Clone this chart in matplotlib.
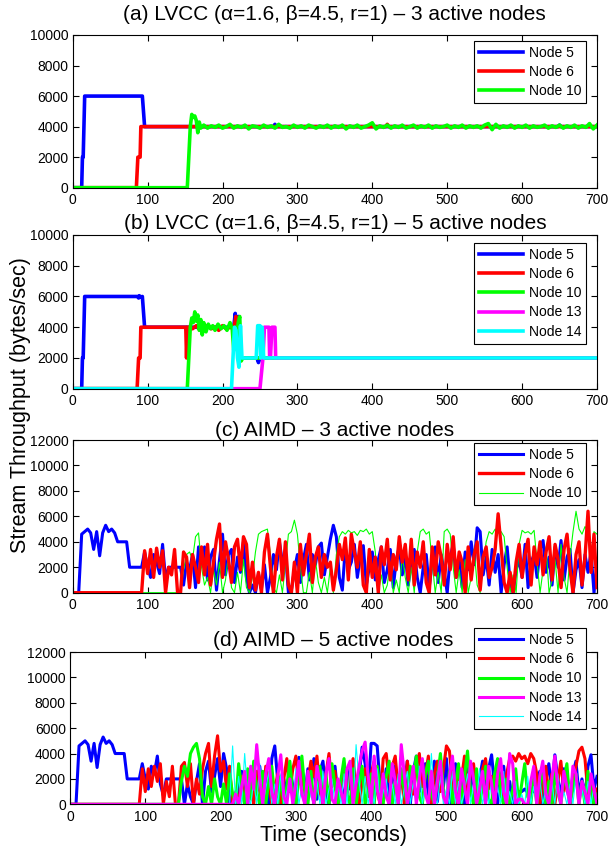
import matplotlib
matplotlib.use('Agg')
import matplotlib.pyplot as plt
import numpy as np

plt.rcParams['font.family'] = ['Liberation Sans', 'DejaVu Sans']

W, H = 609, 852

# ---------------- data ----------------
# (a) LVCC, 3 active nodes  (time s, throughput bytes/sec)
a_n5_t = [0, 12, 13, 14, 16, 93, 96, 268, 270, 272, 648, 650, 652, 700]
a_n5_v = [0, 0, 2000, 2000, 6000, 6000, 4000, 4000, 4150, 4000, 4000, 4100, 4000, 4000]
a_n6_t = [0, 85, 87, 90, 91, 418, 420, 422, 700]
a_n6_v = [0, 0, 2000, 2000, 4000, 4000, 4150, 4000, 4000]
a_n10_t = [0, 153, 155, 157, 159, 161, 163, 165, 167, 169, 171]
a_n10_v = [0, 0, 2000, 4000, 4800, 4600, 4700, 4400, 3600, 4300, 3900]
# after 175 s, every 5 s
a_n10_tail = [4100, 3900, 4050, 3950, 4100, 3900, 4000, 4150, 3900, 4050,
              3950, 4100, 3850, 4050, 4000, 3900, 4100, 3950, 4050, 3900,
              4150, 3950, 4000, 3900, 4100, 3950, 4050, 3900, 4100, 4000,
              3900, 4050, 3950, 4100, 3900, 4050, 3950, 4100, 3850, 4050,
              3950, 4100, 3900, 4000, 4100, 4250, 3850, 4050, 3950, 4100,
              3900, 4050, 3950, 4100, 3900, 4000, 4100, 3900, 4050, 3950,
              4100, 3900, 4050, 3950, 4000, 4100, 3900, 4050, 3950, 4100,
              3900, 4050, 3950, 4050, 3900, 4100, 4200, 3800, 4150, 3900,
              4050, 3950, 4100, 3900, 4050, 3950, 4100, 3900, 4050, 3950,
              4000, 4100, 3900, 4050, 3950, 4100, 3900, 4050, 3950, 4100,
              3900, 4050, 3950, 4200, 3850, 4100]

# (b) LVCC, 5 active nodes
b_n5_t = [0, 12, 13, 14, 16, 87, 88, 89, 90, 93, 96, 215, 217, 219, 221, 223,
          225, 246, 248, 250, 700]
b_n5_v = [0, 0, 2000, 2000, 6000, 6000, 5900, 6050, 5950, 6000, 4000, 4000,
          4900, 3800, 4700, 2000, 2000, 2000, 1700, 2000, 2000]
b_n6_t = [0, 86, 88, 90, 91, 150, 151, 152, 153, 155, 160, 165, 170, 175, 180,
          185, 190, 195, 200, 205, 210, 215, 218, 221, 223, 700]
b_n6_v = [0, 0, 2000, 2000, 4000, 4000, 4000, 2000, 4000, 4000, 3900, 4100,
          3800, 4000, 4100, 3900, 4000, 3800, 4100, 3900, 4000, 3900, 4700,
          2000, 2000, 2000]
b_n10_t = [0, 153, 155, 157, 159, 161, 163, 165, 167, 169, 171, 173, 175, 178,
           181, 184, 187, 190, 194, 198, 202, 206, 210, 213, 215, 217, 219,
           221, 223, 225, 227, 229, 700]
b_n10_v = [0, 0, 2000, 4000, 4600, 4300, 5000, 4400, 4800, 3800, 4500, 3500,
           4300, 3700, 4200, 3900, 4100, 3800, 4200, 3900, 4100, 3800, 4300,
           3900, 2500, 4000, 3300, 4300, 4700, 1800, 2000, 2000, 2000]
b_n13_t = [0, 250, 253, 254, 256, 262, 263, 264, 266, 270, 271, 700]
b_n13_v = [0, 0, 1500, 2000, 4000, 4000, 2000, 2000, 4000, 4000, 2000, 2000]
b_n14_t = [0, 212, 214, 216, 218, 220, 222, 224, 226, 228, 230, 245, 247, 250,
           251, 253, 255, 700]
b_n14_v = [0, 0, 2000, 4000, 3800, 2000, 1400, 4100, 2000, 2000, 2000, 2000,
           4100, 4100, 2000, 4000, 2000, 2000]

# AIMD series: (start time, values every 4 s from start)
c_n5_start = 0
c_n5 = [0, 0, 0, 4600, 4800, 5000, 4700, 3400, 4800, 2900,
        4700, 5300, 4800, 5000, 4700, 4000, 4000, 4000, 4000, 2000,
        2000, 2000, 2000, 2000, 3200, 2000, 1200, 3000, 2400, 1500,
        3800, 1000, 2000, 2000, 2000, 2000, 2000, 600, 2400, 1800,
        3000, 400, 3600, 2200, 3600, 1000, 2800, 3400, 200, 2600,
        4600, 1400, 3000, 3400, 800, 2800, 1600, 4000, 1200, 0,
        600, 0, 1500, 300, 2200, 0, 1200, 3000, 1800, 4000,
        2400, 3200, 0, 200, 1800, 3000, 800, 2600, 3800, 1000,
        3000, 2200, 3600, 3900, 1400, 2800, 4200, 5300, 4400, 1200,
        200, 3600, 1800, 2400, 3800, 1200, 2800, 3700, 600, 2000,
        3200, 1000, 2600, 3600, 800, 1800, 3400, 400, 2600, 3600,
        1400, 3000, 600, 2400, 3400, 1200, 0, 2000, 3000, 400,
        2400, 3600, 800, 3000, 1600, 0, 2800, 3800, 1200, 2600,
        400, 3200, 1800, 4000, 2200, 5100, 4800, 1400, 2800, 600,
        3400, 1600, 3000, 0, 2200, 3600, 800, 0, 1800, 2600,
        1200, 3800, 400, 2400, 3000, 1200, 3400, 4100, 1600, 2800,
        600, 3600, 2000, 4100, 1000, 2800, 3400, 0, 1800, 2600,
        400, 3000, 1600, 3200, 0, 2400]
c_n6_start = 92
c_n6 = [0, 3300, 1500, 3400, 1200, 3500, 2000,
        3300, 0, 2000, 1400, 3400, 0, 0, 3200, 2800, 400,
        3000, 2000, 800, 3600, 1400, 3800, 600, 2400, 4200, 5400,
        1200, 4000, 2600, 800, 3600, 4200, 1800, 4400, 3800, 400,
        2400, 200, 1600, 0, 3200, 4600, 2000, 0, 2800, 4200,
        1000, 4000, 600, 0, 2400, 0, 3800, 1400, 3000, 4600,
        800, 2800, 3600, 1200, 3000, 2000, 2400, 200, 1800, 3800,
        2600, 4300, 1000, 4600, 3200, 2000, 4000, 600, 0, 3400,
        1200, 2800, 0, 3600, 2200, 4200, 1000, 3000, 1800, 4400,
        2400, 3800, 1000, 4200, 600, 3200, 2000, 4000, 800, 0,
        3600, 1400, 4000, 2800, 600, 3800, 1800, 4400, 1200, 3200,
        2400, 0, 3600, 1000, 3000, 4000, 200, 2800, 3600, 1200,
        2000, 3400, 6200, 3600, 800, 0, 1600, 0, 2400, 3800,
        1200, 3000, 4200, 600, 3600, 2200, 4000, 1400, 3200, 4400,
        1000, 3800, 2600, 400, 3400, 4600, 1800, 0, 3000, 4000,
        600, 2800, 6400, 1600, 4600, 400]
c_n10_start = 144
c_n10 = [0, 1800, 3000, 3200, 2600, 4400, 4700, 2000, 600, 1200, 0,
         1800, 600, 2400, 0, 1000, 3000, 400, 0, 1600, 0,
         2600, 400, 0, 1200, 3200, 4600, 4800, 4900, 5000, 3000,
         400, 0, 1400, 0, 2200, 4600, 4800, 5700, 4600, 2000,
         0, 0, 1600, 0, 2600, 800, 0, 1200, 0, 2000,
         0, 3000, 4400, 4800, 4600, 4900, 4700, 4800, 4500, 4900,
         4800, 5000, 4600, 4800, 3200, 0, 1400, 0, 600, 2400,
         0, 1000, 0, 3000, 1200, 0, 2000, 0, 3200, 4800,
         5000, 4600, 4800, 2400, 0, 1600, 0, 4800, 5000, 4600,
         2000, 0, 1800, 0, 2600, 0, 1200, 3400, 600, 0,
         2200, 4000, 4800, 4600, 5000, 4700, 4800, 4400, 2000, 0,
         1400, 0, 3800, 4900, 4700, 4800, 4600, 4900, 2400, 0,
         1800, 3600, 0, 1000, 2600, 0, 3800, 1200, 0, 2800,
         4800, 6400, 5000, 4600, 5200, 4800, 3000, 4800, 4600]

d_n5_start = 0
d_n5 = [0, 0, 0, 4600, 4800, 5000, 4700, 3400, 4800, 2900,
        4700, 5300, 4800, 5000, 4700, 4000, 4000, 4000, 4000, 2000,
        2000, 2000, 2000, 2000, 3200, 2000, 1200, 3000, 2400, 3800,
        1600, 700, 2000, 2000, 2000, 2000, 2000, 2000, 0, 1600,
        600, 0, 1800, 3200, 0, 2600, 3400, 1000, 2200, 3600,
        1400, 4000, 2800, 0, 800, 0, 1400, 2600, 600, 0,
        2200, 400, 1600, 3000, 800, 2400, 0, 3600, 4600, 1800,
        0, 2000, 600, 3000, 1400, 0, 3700, 2200, 800, 2800,
        1200, 3600, 400, 2600, 3400, 1000, 0, 2400, 3000, 600,
        1800, 0, 2800, 1200, 3400, 600, 2200, 4500, 3200, 1000,
        4800, 4800, 4600, 1400, 600, 2800, 0, 1800, 3000, 400,
        2000, 1200, 3400, 0, 2600, 3800, 1000, 2200, 3200, 600,
        1600, 3400, 200, 2800, 1400, 3600, 0, 2400, 3200, 800,
        1800, 0, 3000, 1200, 2600, 400, 2000, 3400, 800, 2800,
        3900, 1400, 0, 2200, 3000, 600, 1800, 0, 1000, 1000,
        1000, 1200, 900, 1000, 1000, 1400, 2600, 0, 1800, 3200,
        1200, 3900, 2000, 600, 2800, 1400, 0, 2400, 3400, 800,
        2000, 600, 3000, 3900, 1200, 2200]
d_n6_start = 92
d_n6 = [0, 2800, 1000, 2800, 1400, 3000, 1800, 3200, 0, 1800, 600,
        3000, 0, 0, 3000, 3300, 1400, 3200, 0, 2000, 800,
        2800, 4000, 4800, 1400, 3800, 5400, 2600, 3400, 1200, 3000,
        0, 1000, 0, 2200, 0, 600, 1800, 0, 2600, 1000,
        0, 3000, 1800, 0, 1200, 2400, 0, 2000, 3600, 1000,
        2800, 3800, 1600, 2600, 0, 1800, 3400, 2200, 3800, 1000,
        0, 2400, 4000, 1400, 2600, 0, 1600, 3000, 800, 2200,
        3600, 1200, 0, 1800, 2800, 600, 2400, 3400, 1000, 0,
        3600, 4000, 1800, 3000, 3800, 1200, 2600, 0, 3400, 2000,
        800, 3000, 4000, 1400, 2200, 3800, 0, 2400, 3400, 1000,
        2800, 4600, 4200, 1600, 0, 3000, 2000, 3800, 600, 2400,
        3200, 1000, 0, 2800, 3600, 1200, 2200, 0, 3000, 1800,
        0, 2400, 3600, 3800, 3400, 4000, 3600, 3800, 3200, 4000,
        3600, 2400, 0, 1400, 3000, 600, 2400, 0, 1800, 3400,
        1000, 2600, 0, 1600, 3000, 4200, 4500, 3600, 800, 2000,
        0, 1200]
d_n10_start = 144
d_n10 = [0, 1800, 3000, 2200, 4000, 4500, 4800, 3600, 600, 0, 1400,
         0, 2000, 600, 0, 1600, 0, 2400, 800, 0, 3200,
         1200, 0, 2800, 400, 3400, 1000, 0, 2600, 0, 1800,
         3000, 600, 0, 2200, 0, 1400, 3400, 800, 0, 2000,
         3800, 1000, 0, 2600, 0, 1200, 3000, 400, 2400, 0,
         3200, 1400, 0, 2000, 3600, 800, 0, 2800, 0, 1600,
         3000, 0, 1000, 2400, 0, 3000, 1400, 0, 2200, 3400,
         0, 1800, 0, 2800, 1000, 0, 3000, 2000, 3800, 600,
         0, 2400, 3400, 800, 0, 2000, 4000, 1200, 0, 2600,
         0, 1600, 3200, 0, 2200, 4200, 1000, 0, 2800, 0,
         1400, 3000, 400, 0, 2400, 3600, 800, 0, 2000, 0,
         1200, 2800, 0, 1600, 3200, 600, 0, 2200, 0, 1400,
         3000, 0, 1800, 0, 2600, 1000, 0, 2000, 3200, 0,
         1200, 2400, 0, 1800, 0, 2600, 1000, 0, 800]
d_n13_start = 212
d_n13 = [0, 0, 800, 0, 1400, 2600, 0, 3000, 1200, 4700,
         2000, 0, 2400, 3600, 1000, 0, 2200, 3900, 600, 0,
         2000, 0, 1600, 3400, 800, 0, 2600, 1200, 0, 3000,
         1800, 0, 2400, 3600, 400, 0, 2000, 1000, 0, 2800,
         3400, 0, 1600, 3000, 4200, 4900, 2200, 0, 3800, 1200,
         0, 2400, 600, 0, 3200, 1800, 0, 4700, 2400, 0,
         1400, 3000, 0, 2000, 3600, 800, 0, 2600, 0, 1800,
         3400, 600, 0, 2200, 3800, 1000, 0, 2800, 1400, 0,
         3400, 2000, 0, 1200, 2600, 0, 3000, 1600, 0, 2400,
         3600, 1000, 0, 4000, 3200, 0, 400, 400, 0, 0,
         1800, 3000, 0, 2200, 3400, 800, 0, 2000, 3800, 1200,
         0, 2600, 1400, 0, 3000, 2400, 0, 1800, 1000, 0,
         2400, 1200, 0]
d_n14_start = 212
d_n14 = [0, 4600, 0, 2200, 0, 4000, 800, 0, 1800, 0,
         3200, 0, 1200, 2600, 0, 1600, 0, 2400, 0, 1000,
         2000, 0, 2800, 0, 1400, 0, 2200, 600, 0, 1800,
         0, 2600, 0, 1200, 2000, 0, 1600, 0, 2400, 0,
         3000, 0, 4700, 1800, 0, 2200, 0, 1400, 0, 2800,
         0, 1000, 2000, 0, 1600, 0, 2400, 0, 1200, 2600,
         0, 1800, 0, 3000, 0, 1400, 0, 4000, 600, 0,
         2200, 0, 1200, 0, 2600, 0, 1800, 0, 1000, 2400,
         0, 1600, 0, 2800, 0, 1200, 0, 2000, 0, 1400,
         0, 2600, 0, 1000, 0, 1800, 0, 800, 0, 2200,
         0, 1400, 0, 2000, 0, 1200, 0, 1800, 0, 2400,
         0, 1000, 0, 1600, 0, 2200, 0, 1200, 0, 1800,
         0, 1400, 0]

STEP = 4
node_labels = ['Node 5', 'Node 6', 'Node 10', 'Node 13', 'Node 14']
colors = ['#0000ff', '#ff0000', '#00ff00', '#ff00ff', '#00ffff']
titles = [u'(a) LVCC (\u03b1=1.6, \u03b2=4.5, r=1) \u2013 3 active nodes',
          u'(b) LVCC (\u03b1=1.6, \u03b2=4.5, r=1) \u2013 5 active nodes',
          u'(c) AIMD \u2013 3 active nodes',
          u'(d) AIMD \u2013 5 active nodes']


def aimd(start, vals):
    t = [0] + [start + STEP * i for i in range(len(vals))]
    return t, [0] + list(vals)


a_n10_t = a_n10_t + [175 + 5 * i for i in range(len(a_n10_tail))]
a_n10_v = a_n10_v + a_n10_tail

panels = [
    [(a_n5_t, a_n5_v), (a_n6_t, a_n6_v), (a_n10_t, a_n10_v)],
    [(b_n5_t, b_n5_v), (b_n6_t, b_n6_v), (b_n10_t, b_n10_v),
     (b_n13_t, b_n13_v), (b_n14_t, b_n14_v)],
    [aimd(c_n5_start, c_n5), aimd(c_n6_start, c_n6), aimd(c_n10_start, c_n10)],
    [aimd(d_n5_start, d_n5), aimd(d_n6_start, d_n6), aimd(d_n10_start, d_n10),
     aimd(d_n13_start, d_n13), aimd(d_n14_start, d_n14)],
]
widths = [[2.6, 2.6, 2.6],
          [2.6, 2.6, 2.6, 2.6, 2.6],
          [2.2, 2.4, 0.8],
          [2.2, 2.2, 2.2, 2.2, 0.8]]
zorders = [[2, 2.1, 2.2],
           [2, 2.1, 2.2, 2.3, 2.4],
           [2, 2.2, 2.1],
           [2, 2.1, 2.2, 2.4, 2.3]]
ymax = [10000, 10000, 12000, 12000]

# pixel boxes: left, top, right, bottom
boxes = [(72.7, 35, 597, 187.7), (72.7, 235, 597, 388.7),
         (72.7, 440, 597, 592.7), (70, 652, 597, 804.3)]
title_pads = [11, 4.5, 3, 4]
legend_tops = [40.7, 242.7, 443, 628]

fig = plt.figure(figsize=(W / 100, H / 100), dpi=100)

for k in range(4):
    l, t, r, b = boxes[k]
    ax = fig.add_axes([l / W, 1 - b / H, (r - l) / W, (b - t) / H])
    for j, (xs, ys) in enumerate(panels[k]):
        ax.plot(xs, ys, color=colors[j], lw=widths[k][j], zorder=zorders[k][j],
                label=node_labels[j])
    ax.set_xlim(0, 700)
    ax.set_ylim(0, ymax[k])
    ax.set_xticks(range(0, 701, 100))
    ax.set_yticks(range(0, ymax[k] + 1, 2000))
    ax.tick_params(direction='in', top=True, right=True, length=4,
                   width=0.8, labelsize=10, pad=4)
    ax.tick_params(axis='y', pad=3)
    for s in ax.spines.values():
        s.set_linewidth(0.8)
    ax.set_title(titles[k], fontsize=15, pad=title_pads[k])
    leg = ax.legend(loc='upper right', bbox_to_anchor=(586 / W, 1 - legend_tops[k] / H),
                    bbox_transform=fig.transFigure, fontsize=10, fancybox=False,
                    framealpha=1, edgecolor='black', borderpad=0.35,
                    labelspacing=0.38, handlelength=3.2, handletextpad=0.4,
                    borderaxespad=0)
    leg.get_frame().set_linewidth(0.8)
    leg.set_zorder(10)
    if k == 3:
        ax.set_xlabel('Time (seconds)', fontsize=15.5, labelpad=1)

fig.text(21 / W, 1 - 405 / H, 'Stream Throughput (bytes/sec)', rotation=90,
         fontsize=15.5, ha='center', va='center')

fig.savefig('out.png', dpi=100)
